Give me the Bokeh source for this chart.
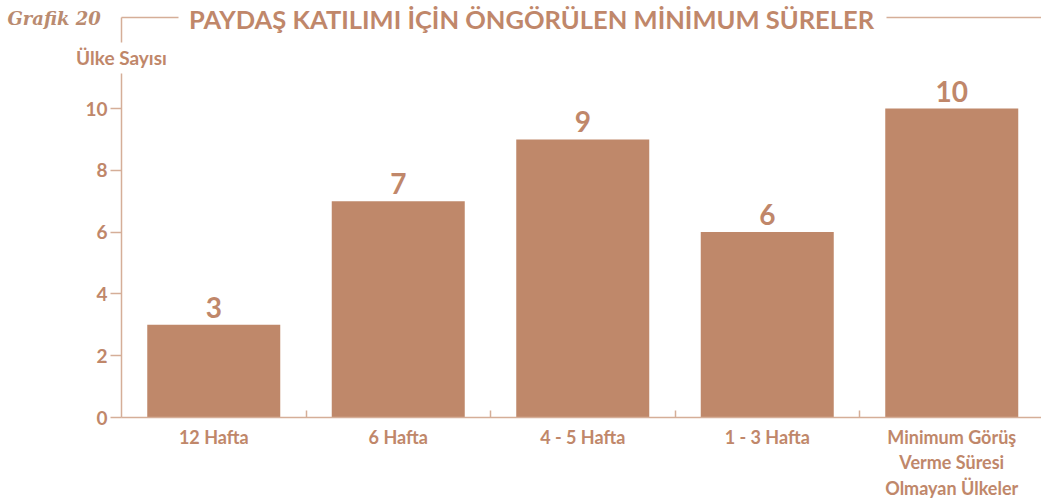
from bokeh.plotting import figure
from bokeh.models import Range1d, FixedTicker, Label
from bokeh.core.properties import value
from bokeh.embed import file_html
from bokeh.resources import INLINE

# ---- data ----
categories = ["12 Hafta", "6 Hafta", "4 - 5 Hafta", "1 - 3 Hafta",
              "Minimum Görüş\nVerme Süresi\nOlmayan Ülkeler"]
counts = [3, 7, 9, 6, 10]
y_ticks = [0, 2, 4, 6, 8, 10]
chart_number = "Grafik 20"
title_text = "PAYDAŞ KATILIMI İÇİN ÖNGÖRÜLEN MİNİMUM SÜRELER"
y_title = "Ülke Sayısı"

# ---- style ----
BAR = "#BF886A"
TEXT = "#C0876A"
AXIS = "#D5AE98"
FONT = "Lato"
W, H = 1041, 500

# pixel geometry (canvas coords): axis corner and scale
AX_X, AX_Y, AX_TOP = 121, 417, 73
PX_PER_UNIT_Y = 30.9
PX_PER_CAT = 184.5


def px_x(X):
    return -0.5 + (X - AX_X) / PX_PER_CAT


def px_y(Y):
    return (AX_Y - Y) / PX_PER_UNIT_Y


p = figure(width=W, height=H,
           x_range=Range1d(px_x(0), px_x(W)), y_range=Range1d(px_y(H), px_y(0)),
           output_backend="svg", toolbar_location=None,
           min_border=0, min_border_left=0, min_border_right=0,
           min_border_top=0, min_border_bottom=0)
p.outline_line_color = None
p.grid.grid_line_color = None
p.background_fill_color = "white"
p.border_fill_color = "white"

xs = list(range(len(categories)))
p.vbar(x=xs, top=counts, width=133 / PX_PER_CAT, color=BAR, line_color=None)
p.text(x=xs, y=counts, text=[str(c) for c in counts],
       text_align="center", text_baseline="bottom", y_offset=-7,
       text_font=value(FONT), text_font_style="bold", text_font_size="28px",
       text_color=TEXT)

# y axis
ya = p.yaxis[0]
ya.fixed_location = px_x(AX_X)
ya.bounds = (0, px_y(AX_TOP))
ya.ticker = FixedTicker(ticks=y_ticks)
ya.major_tick_out = 11
ya.major_tick_in = 0
ya.minor_tick_out = 0
ya.minor_tick_in = 0
ya.axis_line_color = AXIS
ya.axis_line_width = 1.5
ya.major_tick_line_color = AXIS
ya.major_tick_line_width = 1.5
ya.major_label_text_color = TEXT
ya.major_label_text_font = FONT
ya.major_label_text_font_style = "bold"
ya.major_label_text_font_size = "19px"
ya.major_label_standoff = 3

# x axis: category labels at centres, separators between categories
xa = p.xaxis[0]
xa.fixed_location = 0
xa.bounds = (px_x(AX_X), px_x(W))
boundaries = [i + 0.5 for i in xs[:-1]]
xa.ticker = FixedTicker(ticks=xs, minor_ticks=boundaries)
xa.major_label_overrides = {i: c for i, c in zip(xs, categories)}
xa.major_tick_in = 0
xa.major_tick_out = 0
xa.minor_tick_in = 7
xa.minor_tick_out = 0
xa.minor_tick_line_color = AXIS
xa.minor_tick_line_width = 1.5
xa.axis_line_color = AXIS
xa.axis_line_width = 1.5
xa.major_label_text_color = TEXT
xa.major_label_text_font = FONT
xa.major_label_text_font_style = "bold"
xa.major_label_text_font_size = "18px"
xa.major_label_text_line_height = 1.16
xa.major_label_standoff = 8

# header texts
p.add_layout(Label(x=px_x(7), y=px_y(18), text=chart_number,
                   text_align="left", text_baseline="middle",
                   text_font="DejaVu Serif", text_font_style="bold italic",
                   text_font_size="18px", text_color="#BA8B70"))
p.add_layout(Label(x=px_x(531), y=px_y(18), text=title_text,
                   text_align="center", text_baseline="middle",
                   text_font=FONT, text_font_style="bold",
                   text_font_size="25.5px", text_color=TEXT))
p.add_layout(Label(x=px_x(121), y=px_y(57), text=y_title,
                   text_align="center", text_baseline="middle",
                   text_font=FONT, text_font_style="bold",
                   text_font_size="19px", text_color=TEXT))

# decorative header lines
seg_x0 = [px_x(121), px_x(121), px_x(886)]
seg_y0 = [px_y(17), px_y(17), px_y(17)]
seg_x1 = [px_x(121), px_x(178), px_x(1041)]
seg_y1 = [px_y(42), px_y(17), px_y(17)]
p.segment(x0=seg_x0, y0=seg_y0, x1=seg_x1, y1=seg_y1,
          line_color=AXIS, line_width=1.5)

open("out.html", "w").write(file_html(p, INLINE))
